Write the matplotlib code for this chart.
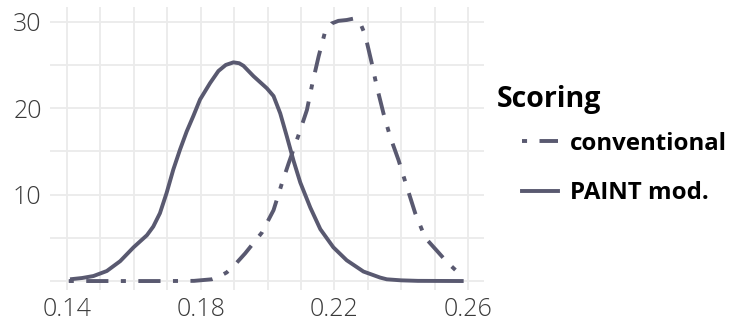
import matplotlib.pyplot as plt
from matplotlib.ticker import FixedLocator
from matplotlib.lines import Line2D

# density curves
conv_x = [0.1405, 0.150, 0.160, 0.170, 0.178, 0.1833, 0.1855, 0.1878, 0.1905,
          0.1933, 0.1958, 0.1983, 0.2018, 0.2043, 0.2063, 0.2093, 0.2118, 0.2135,
          0.2153, 0.2172, 0.2192, 0.2212, 0.2237, 0.2262, 0.2278, 0.2292, 0.2312,
          0.2327, 0.2347, 0.2367, 0.2392, 0.2417, 0.2442, 0.2472, 0.2507, 0.2537,
          0.2581]
conv_y = [0.0, 0.0, 0.0, 0.0, 0.02, 0.2, 0.5, 1.0, 2.0,
          3.2, 4.4, 5.6, 8.2, 11.3, 13.6, 16.9, 19.8, 23.0,
          26.0, 28.8, 29.8, 30.1, 30.2, 30.4, 29.8, 28.5, 25.2,
          22.5, 19.4, 16.7, 14.0, 10.9, 7.85, 5.0, 3.5, 2.2,
          0.6]

paint_x = [0.1409, 0.1445, 0.1479, 0.1519, 0.1559, 0.1599, 0.1639, 0.1658,
           0.1678, 0.1698, 0.1718, 0.1738, 0.1758, 0.1778, 0.1798, 0.1828,
           0.1853, 0.1875, 0.1898, 0.1915, 0.1928, 0.1958, 0.1998, 0.2018,
           0.2038, 0.2058, 0.2078, 0.2098, 0.2128, 0.2158, 0.2197, 0.2237,
           0.2287, 0.2337, 0.2357, 0.2400, 0.2450, 0.2587]
paint_y = [0.2, 0.35, 0.58, 1.16, 2.3, 3.9, 5.3, 6.3,
           7.85, 10.2, 12.9, 15.2, 17.3, 19.1, 21.0, 22.9,
           24.3, 25.0, 25.3, 25.2, 24.9, 23.7, 22.3, 21.4,
           19.4, 16.7, 13.9, 11.4, 8.5, 6.0, 3.9, 2.4,
           1.1, 0.4, 0.2, 0.08, 0.02, 0.0]

x_major = [0.14, 0.18, 0.22, 0.26]
x_minor = [0.15, 0.16, 0.17, 0.19, 0.20, 0.21, 0.23, 0.24, 0.25]
y_major = [10, 20, 30]
y_minor = [0, 5, 15, 25]

line_col = '#595970'
grid_col = '#ebebeb'
lw = 2.8
conv_dash = (1.3, 3.2, 5.7, 3.2)

fig = plt.figure(figsize=(7.4, 3.35), dpi=100)
ax = fig.add_axes([0.0676, 0.134, 0.5865, 0.845])

ax.plot(conv_x, conv_y, color=line_col, lw=lw, dashes=conv_dash,
        dash_capstyle='butt', solid_joinstyle='round')
ax.plot(paint_x, paint_y, color=line_col, lw=lw, solid_joinstyle='round',
        solid_capstyle='butt')

ax.set_xlim(0.1349, 0.2648)
ax.set_ylim(-1.05, 31.7)

ax.xaxis.set_major_locator(FixedLocator(x_major))
ax.xaxis.set_minor_locator(FixedLocator(x_minor))
ax.yaxis.set_major_locator(FixedLocator(y_major))
ax.yaxis.set_minor_locator(FixedLocator(y_minor))
ax.set_xticklabels(['0.14', '0.18', '0.22', '0.26'])
ax.set_yticklabels(['10', '20', '30'])

ax.grid(True, which='both', color=grid_col, lw=1.3)
ax.set_axisbelow(True)
for s in ax.spines.values():
    s.set_visible(False)
ax.tick_params(which='both', length=0)
ax.tick_params(axis='x', pad=5)
ax.tick_params(axis='y', pad=6)
for lab in ax.get_xticklabels() + ax.get_yticklabels():
    lab.set_fontfamily('Open Sans')
    lab.set_fontweight('light')
    lab.set_fontsize(18)
    lab.set_color('#3a3a3a')

# legend: title placed separately so the keys sit indented under it
fig.text(497 / 740, 1 - 100 / 335, 'Scoring', family='Open Sans',
         weight='bold', size=20.5, va='center', ha='left', color='black')
handles = [Line2D([], [], color=line_col, lw=lw, dashes=conv_dash),
           Line2D([], [], color=line_col, lw=lw)]
leg = fig.legend(handles, ['conventional', 'PAINT mod.'], loc='center left',
                 bbox_to_anchor=(522 / 740, 1 - 168.5 / 335), frameon=False,
                 borderpad=0, borderaxespad=0, handlelength=1.5,
                 handletextpad=0.5, labelspacing=1.05,
                 prop={'family': 'Open Sans', 'weight': 'bold', 'size': 17.3})

fig.savefig('out.png', dpi=100)
